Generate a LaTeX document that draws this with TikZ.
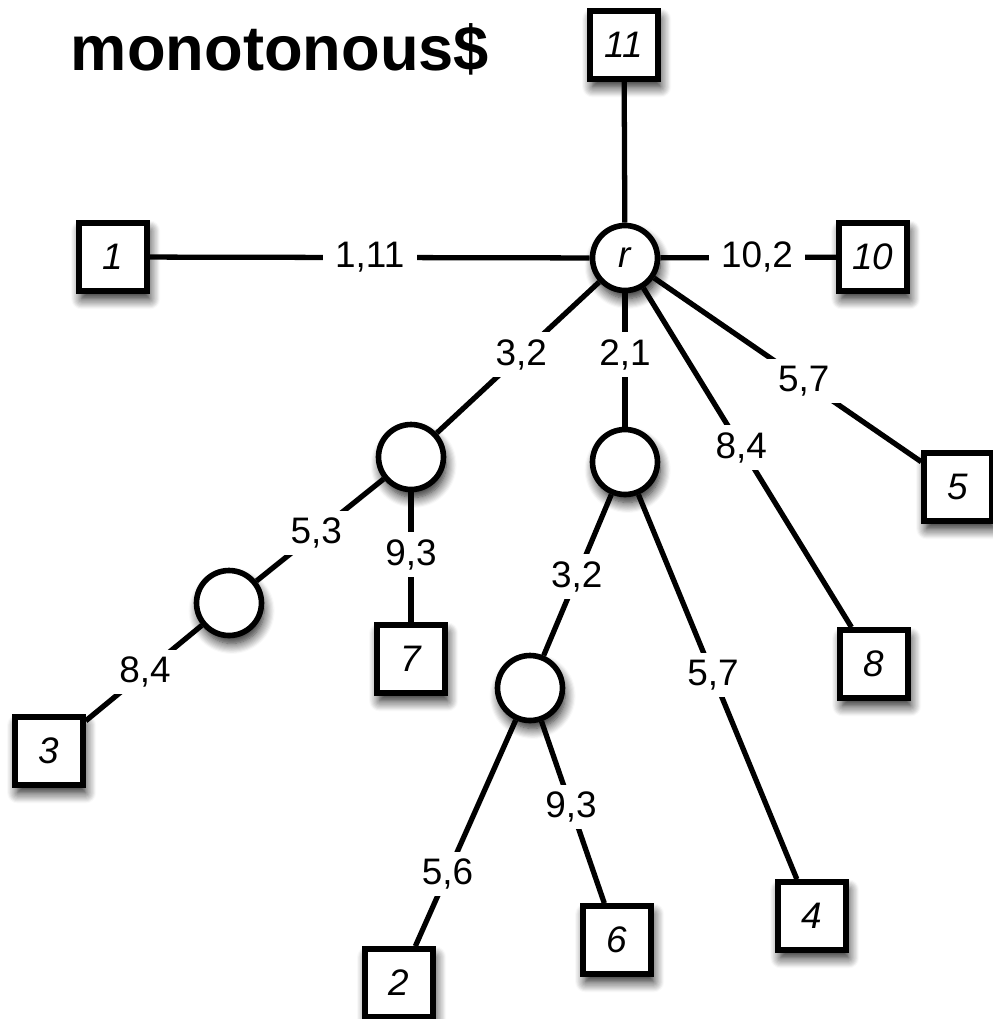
\documentclass[tikz,border=0pt]{standalone}
\usepackage{fontspec}
\setmainfont{Liberation Sans}
\usetikzlibrary{shadows.blur}
\begin{document}
\begin{tikzpicture}[x=0.02cm,y=-0.02cm,
  shad/.style={blur shadow={shadow xshift=1.5pt, shadow yshift=-4.5pt, shadow blur radius=6pt, shadow opacity=90, shadow blur steps=10}},
  leaf/.style={draw, line width=3.2pt, fill=white, minimum size=1.36cm, inner sep=0pt, font=\fontsize{21}{24}\selectfont\itshape, shad},
  inner/.style={circle, draw, line width=3.2pt, fill=white, minimum size=1.3cm, inner sep=0pt, font=\fontsize{21}{24}\selectfont\itshape, shad},
  conn/.style={line width=3pt},
  lab/.style={fill=white, font=\fontsize{21}{24}\selectfont, inner xsep=7pt, inner ysep=4pt}
]
\useasboundingbox (0,0) rectangle (992,1019);
\node[anchor=base, font=\fontsize{36}{40}\selectfont\bfseries] (title) at (280,70) {monotonous\$};
% internal nodes
\node[inner] (r) at (625,258) {r};
\node[inner] (A) at (411,457) {};
\node[inner] (B) at (625,462) {};
\node[inner] (C) at (229,603) {};
\node[inner] (D) at (530,688) {};
% leaves
\node[leaf] (l11) at (624,45) {11};
\node[leaf] (l1) at (113,257) {1};
\node[leaf] (l10) at (873,257) {10};
\node[leaf] (l5) at (958,487) {5};
\node[leaf] (l7) at (411,659) {7};
\node[leaf] (l8) at (874,664) {8};
\node[leaf] (l3) at (49,751) {3};
\node[leaf] (l6) at (617,940) {6};
\node[leaf] (l4) at (812,916) {4};
\node[leaf] (l2) at (399,983) {2};
% connectors
\draw[conn] (r) -- (l11);
\draw[conn] (r) -- node[lab,pos=0.5]{1,11} (l1);
\draw[conn] (r) -- node[lab,pos=0.55]{10,2} (l10);
\draw[conn] (r) -- node[lab,pos=0.48]{3,2} (A);
\draw[conn] (r) -- node[lab,pos=0.46]{2,1} (B);
\draw[conn] (r) -- node[lab,pos=0.47]{8,4} (l8);
\draw[conn] (r) -- node[lab,pos=0.56]{5,7} (l5);
\draw[conn] (A) -- node[lab,pos=0.53]{5,3} (C);
\draw[conn] (A) -- node[lab,pos=0.48]{9,3} (l7);
\draw[conn] (C) -- node[lab,pos=0.49]{8,4} (l3);
\draw[conn] (B) -- node[lab,pos=0.51]{3,2} (D);
\draw[conn] (B) -- node[lab,pos=0.47]{5,7} (l4);
\draw[conn] (D) -- node[lab,pos=0.68]{5,6} (l2);
\draw[conn] (D) -- node[lab,pos=0.47]{9,3} (l6);
\end{tikzpicture}
\end{document}
